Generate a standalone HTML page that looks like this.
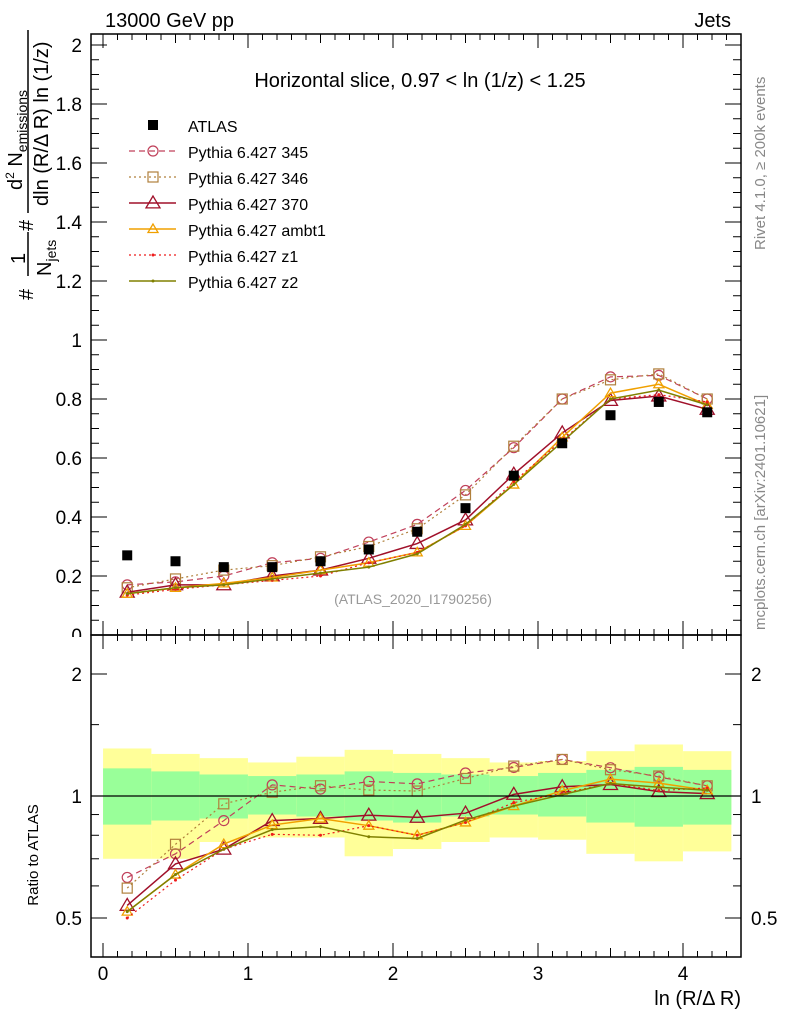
<!DOCTYPE html>
<html><head><meta charset="utf-8"><style>
body{margin:0;background:#fff;}
svg{font-family:"Liberation Sans",sans-serif;}
</style></head><body>
<svg id="c" width="786" height="1024" viewBox="0 0 786 1024" xmlns="http://www.w3.org/2000/svg">
<g id="bands"></g><g id="grid"></g><g id="series"></g><g id="axes"></g>
<text x="105" y="27" font-size="20">13000 GeV pp</text>
<text x="731" y="27" font-size="20" text-anchor="end">Jets</text>
<text x="420" y="87" font-size="20" text-anchor="middle">Horizontal slice, 0.97 &lt; ln (1/z) &lt; 1.25</text>
<text x="413" y="604" font-size="14" fill="#999" text-anchor="middle">(ATLAS_2020_I1790256)</text>
<text transform="translate(765,250) rotate(-90)" font-size="15" fill="#888">Rivet 4.1.0, ≥ 200k events</text>
<text transform="translate(765,630) rotate(-90)" font-size="15" fill="#888">mcplots.cern.ch [arXiv:2401.10621]</text>
<text x="741" y="1005" font-size="20" text-anchor="end">ln (R/Δ R)</text>
<text transform="translate(38,855) rotate(-90)" font-size="15" text-anchor="middle">Ratio to ATLAS</text>
<g font-size="20">
<text transform="translate(33,300) rotate(-90)">#</text>
<text transform="translate(25,264) rotate(-90)">1</text>
<line x1="28" y1="276" x2="28" y2="232" stroke="#000" stroke-width="1.5"/>
<text transform="translate(51,276) rotate(-90)">N<tspan font-size="14" dy="5">jets</tspan></text>
<text transform="translate(33,231) rotate(-90)">#</text>
<text transform="translate(22,190) rotate(-90)">d<tspan font-size="12" dy="-8">2</tspan><tspan dy="8"> N</tspan><tspan font-size="14" dy="5">emissions</tspan></text>
<line x1="28" y1="213" x2="28" y2="30" stroke="#000" stroke-width="1.5"/>
<text transform="translate(48,206) rotate(-90)">dln (R/Δ R) ln (1/z)</text>
</g>
<g id="legend"></g>
</svg>
<script>
const xCenters=[0.167,0.5,0.833,1.167,1.5,1.833,2.167,2.5,2.833,3.167,3.5,3.833,4.167];
const atlas=[0.27,0.25,0.23,0.23,0.25,0.29,0.35,0.43,0.54,0.65,0.745,0.79,0.755];
const p345=[0.17,0.18,0.20,0.245,0.26,0.315,0.375,0.49,0.635,0.80,0.875,0.88,0.80];
const p346=[0.16,0.19,0.22,0.235,0.265,0.30,0.36,0.475,0.64,0.80,0.865,0.885,0.80];
const p370=[0.145,0.17,0.17,0.20,0.22,0.26,0.31,0.39,0.545,0.685,0.795,0.81,0.765];
const pambt1=[0.14,0.16,0.175,0.195,0.22,0.245,0.28,0.37,0.51,0.67,0.82,0.85,0.78];
const pz1=[0.135,0.155,0.17,0.185,0.20,0.245,0.28,0.37,0.52,0.66,0.80,0.815,0.79];
const pz2=[0.14,0.16,0.17,0.19,0.21,0.23,0.275,0.375,0.51,0.655,0.80,0.83,0.78];
const yellowHi=[1.31,1.27,1.24,1.21,1.25,1.30,1.27,1.24,1.21,1.22,1.29,1.34,1.29];
const yellowLo=[0.70,0.70,0.77,0.79,0.79,0.71,0.74,0.77,0.79,0.78,0.72,0.69,0.73];
const greenHi=[1.17,1.15,1.13,1.12,1.13,1.15,1.14,1.13,1.12,1.14,1.16,1.18,1.16];
const greenLo=[0.85,0.87,0.88,0.90,0.89,0.87,0.86,0.89,0.90,0.89,0.86,0.84,0.85];
const xTicks=[0,1,2,3,4];
const yTicks=[0,0.2,0.4,0.6,0.8,1,1.2,1.4,1.6,1.8,2];
const rTicks=[0.5,1,2];
const binW=1/3;

const NS="http://www.w3.org/2000/svg";
const L=91,R=741,T=34,MB=635,RB=957;
const X=v=>103+145*v;
const Y=v=>635-295*v;
const YR=r=>796-122*Math.log2(r);
function mk(tag,attrs,parent){const e=document.createElementNS(NS,tag);for(const k in attrs)e.setAttribute(k,attrs[k]);parent.appendChild(e);return e;}
const bands=document.getElementById('bands'),axes=document.getElementById('axes'),ser=document.getElementById('series'),leg=document.getElementById('legend');

xCenters.forEach((c,i)=>{
  const x0=X(c-binW/2),x1=X(c+binW/2);
  const y=mk('rect',{x:x0,y:YR(yellowHi[i]),width:x1-x0,height:YR(yellowLo[i])-YR(yellowHi[i]),fill:'#ffff99'},bands);
  
  
  const g=mk('rect',{x:x0,y:YR(greenHi[i]),width:x1-x0,height:YR(greenLo[i])-YR(greenHi[i]),fill:'#99ff99'},bands);
  
  
});
const one=mk('line',{x1:L,x2:R,y1:YR(1),y2:YR(1),stroke:'#000','stroke-width':1.2},axes);



[[T,MB],[MB,RB]].forEach(([a,b],k)=>{
  const f=mk('rect',{x:L,y:a,width:R-L,height:b-a,fill:'none',stroke:'#000','stroke-width':1.5},axes);
  
  
});
for(let v=0;v<=4.4;v+=0.1){
  const major=Math.abs(v-Math.round(v))<1e-6, mid=Math.abs(v*2-Math.round(v*2))<1e-6;
  const len=major?14:(mid?9:6);
  const x=X(v);
  if(x>R)break;
  [[T,1],[MB,-1],[MB,1],[RB,-1]].forEach(([y0,d])=>mk('line',{x1:x,x2:x,y1:y0,y2:y0+d*len,stroke:'#000','stroke-width':1},axes));
}
xTicks.forEach(v=>{
  const t=mk('text',{x:X(v),y:980,'font-size':19,'text-anchor':'middle'},axes);t.textContent=v;
  
  
});
for(let v=0;v<=2.05;v+=0.05){
  const major=Math.abs(v*5-Math.round(v*5))<1e-6;
  const len=major?16:8, y=Y(v);
  mk('line',{x1:L,x2:L+len,y1:y,y2:y,stroke:'#000'},axes);
  mk('line',{x1:R,x2:R-len,y1:y,y2:y,stroke:'#000'},axes);
}
yTicks.forEach(v=>{
  const t=mk('text',{x:82,y:Y(v)+7,'font-size':19,'text-anchor':'end'},axes);
  t.textContent=Math.round(v*10)/10;
  
  
});
const cover=mk('rect',{x:60,y:637,width:30,height:12,fill:'#fff'},axes);


[0.5,0.6,0.7,0.8,0.9,1,1.5,2].forEach(r=>{
  const major=rTicks.includes(r),len=major?16:8,y=YR(r);
  mk('line',{x1:L,x2:L+len,y1:y,y2:y,stroke:'#000'},axes);
  mk('line',{x1:R,x2:R-len,y1:y,y2:y,stroke:'#000'},axes);
});
rTicks.forEach(r=>{
  const t=mk('text',{x:82,y:YR(r)+7,'font-size':19,'text-anchor':'end'},axes);t.textContent=r;
  
  
  const t2=mk('text',{x:751,y:YR(r)+7,'font-size':19},axes);t2.textContent=r;
  
  
});

const series=[
 {name:'Pythia 6.427 345',v:p345,c:'#c0405a',dash:'6,4',m:'circle',s:5,w:1.2},
 {name:'Pythia 6.427 346',v:p346,c:'#b0803c',dash:'2,3',m:'square',s:5,w:1.2},
 {name:'Pythia 6.427 370',v:p370,c:'#a0102a',dash:'',m:'tri',s:7,w:1.5},
 {name:'Pythia 6.427 ambt1',v:pambt1,c:'#f0a000',dash:'',m:'tri',s:5,w:1.5},
 {name:'Pythia 6.427 z1',v:pz1,c:'#ee1c1c',dash:'2,3',m:'dot',s:1.5,w:1.2},
 {name:'Pythia 6.427 z2',v:pz2,c:'#808000',dash:'',m:'dot',s:1.5,w:1.5}
];
function marker(m,x,y,s,c,p){
  if(m==='circle')return mk('circle',{cx:x,cy:y,r:s,fill:'none',stroke:c,'stroke-width':1.2},p);
  if(m==='square')return mk('rect',{x:x-s,y:y-s,width:2*s,height:2*s,fill:'none',stroke:c,'stroke-width':1.2},p);
  if(m==='tri')return mk('polygon',{points:`${x},${y-s} ${x-s},${y+s*0.7} ${x+s},${y+s*0.7}`,fill:'none',stroke:c,'stroke-width':1.3},p);
  return mk('circle',{cx:x,cy:y,r:s,fill:c},p);
}
series.forEach(sr=>{
  const g=mk('g',{},ser);
  
  
  const pm=xCenters.map((c,i)=>X(c)+','+Y(sr.v[i])).join(' ');
  mk('polyline',{points:pm,fill:'none',stroke:sr.c,'stroke-width':sr.w,'stroke-dasharray':sr.dash},g);
  const pr=xCenters.map((c,i)=>X(c)+','+YR(sr.v[i]/atlas[i])).join(' ');
  mk('polyline',{points:pr,fill:'none',stroke:sr.c,'stroke-width':sr.w,'stroke-dasharray':sr.dash},g);
  xCenters.forEach((c,i)=>{
    const a=marker(sr.m,X(c),Y(sr.v[i]),sr.s,sr.c,g);
    
    
    const b=marker(sr.m,X(c),YR(sr.v[i]/atlas[i]),sr.s,sr.c,g);
    
    
  });
});
const ag=mk('g',{},ser);


xCenters.forEach((c,i)=>{
  const r=mk('rect',{x:X(c)-5,y:Y(atlas[i])-5,width:10,height:10,fill:'#000'},ag);
  
  
});
const lx=153,ly=125,dy=26;
const la=mk('rect',{x:lx-5,y:ly-5,width:10,height:10,fill:'#000'},leg);


const lt=mk('text',{x:188,y:ly+7,'font-size':16},leg);lt.textContent='ATLAS';


series.forEach((sr,k)=>{
  const y=ly+dy*(k+1);
  mk('line',{x1:129,x2:176,y1:y,y2:y,stroke:sr.c,'stroke-width':sr.w,'stroke-dasharray':sr.dash},leg);
  marker(sr.m,153,y,sr.s,sr.c,leg);
  const t=mk('text',{x:188,y:y+7,'font-size':16},leg);t.textContent=sr.name;
  
  
});
</script>
</body></html>
